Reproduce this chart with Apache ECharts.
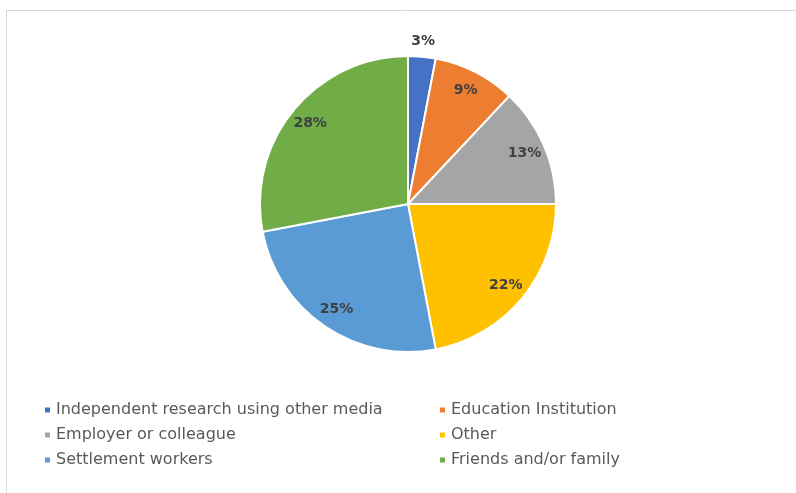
<!DOCTYPE html>
<html>
<head>
<meta charset="utf-8">
<script src="https://cdn.jsdelivr.net/npm/echarts@6/dist/echarts.min.js"></script>
<style>
  html, body { margin: 0; padding: 0; background: #fff; }
  #chart { width: 796px; height: 493px; }
</style>
</head>
<body>
<div id="chart"></div>
<script>
// Sources of information (percent of respondents)
const categories = [
  'Independent research using other media',
  'Education Institution',
  'Employer or colleague',
  'Other',
  'Settlement workers',
  'Friends and/or family'
];
const shares = [3, 9, 13, 22, 25, 28];
const sliceColors = ['#4472C4', '#ED7D31', '#A5A5A5', '#FFC000', '#5B9BD5', '#70AD47'];

const center = [408, 204];
const fontFamily = '"DejaVu Sans", sans-serif';

const sliceData = categories.map((name, i) => ({
  name: name,
  value: shares[i],
  itemStyle: { color: sliceColors[i] }
}));

// Transparent ring that only carries the value labels, so they sit near the rim
const labelData = categories.map((name, i) => {
  const item = { name: name, value: shares[i] };
  if (shares[i] < 5) {
    item.label = { position: 'outside', distanceToLabelLine: -12 };
    item.labelLine = { show: false, length: 15, length2: 0 };
  }
  return item;
});

const legendText = { color: '#595959', fontSize: 16, fontFamily: fontFamily, lineHeight: 20 };

const chart = echarts.init(document.getElementById('chart'), null, { renderer: 'canvas' });

chart.setOption({
  backgroundColor: '#ffffff',
  animation: false,
  graphic: [{
    type: 'rect',
    shape: { x: 6.5, y: 10.5, width: 820, height: 520 },
    style: { fill: 'none', stroke: '#d9d9d9', lineWidth: 1 },
    silent: true,
    z: -1
  }],
  legend: [
    {
      orient: 'vertical',
      left: 43,
      top: 400,
      padding: 0,
      data: [categories[0], categories[2], categories[4]],
      icon: 'rect',
      itemWidth: 7,
      itemHeight: 7,
      itemGap: 5,
      textStyle: legendText
    },
    {
      orient: 'vertical',
      left: 438,
      top: 400,
      padding: 0,
      data: [categories[1], categories[3], categories[5]],
      icon: 'rect',
      itemWidth: 7,
      itemHeight: 7,
      itemGap: 5,
      textStyle: legendText
    }
  ],
  series: [
    {
      name: 'slices',
      type: 'pie',
      center: center,
      radius: [0, 148],
      startAngle: 90,
      clockwise: true,
      avoidLabelOverlap: false,
      label: { show: false },
      labelLine: { show: false },
      itemStyle: { borderColor: '#ffffff', borderWidth: 2 },
      emphasis: { disabled: true },
      data: sliceData
    },
    {
      name: 'labels',
      type: 'pie',
      center: center,
      radius: [100, 148],
      startAngle: 90,
      clockwise: true,
      silent: true,
      avoidLabelOverlap: false,
      itemStyle: { color: 'rgba(0,0,0,0)', borderWidth: 0 },
      emphasis: { disabled: true },
      label: {
        show: true,
        position: 'inside',
        formatter: '{c}%',
        color: '#404040',
        fontSize: 14,
        fontWeight: 'bold',
        fontFamily: fontFamily
      },
      labelLine: { show: false },
      data: labelData
    }
  ]
});
</script>
</body>
</html>
